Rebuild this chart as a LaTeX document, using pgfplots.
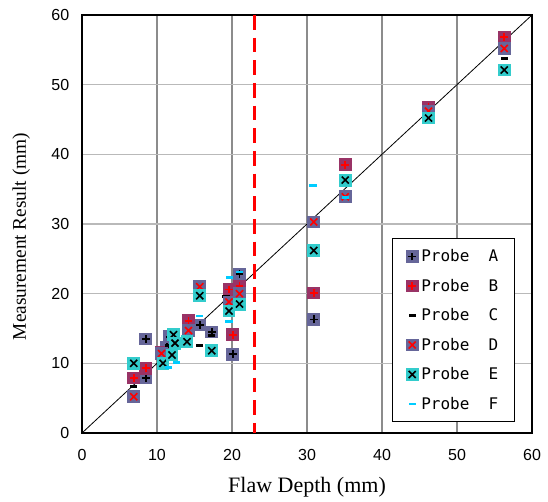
\documentclass[border=0pt]{standalone}
\usepackage{pgfplots}
\pgfplotsset{compat=1.18}
\usepackage{fontspec}
\setmainfont{Liberation Serif}
\newfontfamily\tickfont{Liberation Sans}
\newfontfamily\legfont{DejaVu Sans Mono}
\definecolor{cSlate}{RGB}{102,102,153}
\definecolor{cPlum}{RGB}{153,51,102}
\definecolor{cTeal}{RGB}{51,204,204}
\definecolor{cSky}{RGB}{0,204,255}
\definecolor{cGridX}{RGB}{140,140,140}
\definecolor{cGridY}{RGB}{185,185,185}
\definecolor{cRed}{RGB}{255,0,0}

\pgfdeclareplotmark{sqplus}{%
  \pgfpathrectangle{\pgfqpoint{-\pgfplotmarksize}{-\pgfplotmarksize}}{\pgfqpoint{2\pgfplotmarksize}{2\pgfplotmarksize}}%
  \pgfusepathqfill
  \pgfsetlinewidth{1.3pt}%
  \pgfpathmoveto{\pgfqpoint{-0.62\pgfplotmarksize}{0pt}}\pgfpathlineto{\pgfqpoint{0.62\pgfplotmarksize}{0pt}}%
  \pgfpathmoveto{\pgfqpoint{0pt}{-0.62\pgfplotmarksize}}\pgfpathlineto{\pgfqpoint{0pt}{0.62\pgfplotmarksize}}%
  \pgfusepathqstroke}
\pgfdeclareplotmark{sqcross}{%
  \pgfpathrectangle{\pgfqpoint{-\pgfplotmarksize}{-\pgfplotmarksize}}{\pgfqpoint{2\pgfplotmarksize}{2\pgfplotmarksize}}%
  \pgfusepathqfill
  \pgfsetlinewidth{1.2pt}%
  \pgfpathmoveto{\pgfqpoint{-0.55\pgfplotmarksize}{-0.55\pgfplotmarksize}}\pgfpathlineto{\pgfqpoint{0.55\pgfplotmarksize}{0.55\pgfplotmarksize}}%
  \pgfpathmoveto{\pgfqpoint{-0.55\pgfplotmarksize}{0.55\pgfplotmarksize}}\pgfpathlineto{\pgfqpoint{0.55\pgfplotmarksize}{-0.55\pgfplotmarksize}}%
  \pgfusepathqstroke}
\pgfdeclareplotmark{hdash}{%
  \pgfpathrectangle{\pgfqpoint{-0.55\pgfplotmarksize}{-0.22\pgfplotmarksize}}{\pgfqpoint{1.1\pgfplotmarksize}{0.44\pgfplotmarksize}}%
  \pgfusepathqfill}

\begin{document}
\begin{tikzpicture}
\begin{axis}[
  scale only axis,
  width=337.5pt, height=313.5pt,
  xmin=0, xmax=60, ymin=0, ymax=60,
  xtick={0,10,...,60}, ytick={0,10,...,60},
  major tick length=0pt,
  xmajorgrids, ymajorgrids,
  x grid style={cGridX, line width=0.9pt},
  y grid style={cGridY, line width=0.9pt},
  axis line style={black, line width=1.4pt},
  /pgf/number format/assume math mode=true,
  tick label style={font=\tickfont\fontsize{12}{14}\selectfont},
  xticklabel style={yshift=-9pt},
  yticklabel style={xshift=-6pt},
  xlabel={Flaw Depth (mm)},
  ylabel={Measurement Result (mm)},
  xlabel style={font=\fontsize{16.5}{18}\selectfont, at={(axis description cs:0.5,-0.129)}, anchor=center},
  ylabel style={font=\fontsize{14.5}{17}\selectfont, at={(axis description cs:-0.135,0.47)}, anchor=center},
  legend style={at={(0.689,0.026)}, anchor=south west, draw=black, line width=0.6pt,
    font=\legfont\fontsize{12}{14}\selectfont, row sep=7.5pt,
    inner xsep=10pt, inner ysep=6pt, cells={anchor=west}},
  legend cell align=left,
  mark size=4.8pt,
  clip=false,
]
\addplot[black, line width=0.6pt, forget plot] coordinates {(0,0) (60,60)};
\addplot[cRed, line width=2.2pt, dash pattern=on 11pt off 6pt, forget plot] coordinates {(23,60) (23,0)};

\addplot[only marks, mark=sqplus, mark options={fill=cSlate, draw=black}] coordinates {
 (8.5,13.5) (8.5,7.9) (11.3,12.3) (11.7,13.8) (15.7,15.5) (17.3,14.5) (20.1,11.3) (21,22.8)
 (30.9,16.3) (35.1,33.9) (46.2,46.5) (56.3,56)};
\addlegendentry{Probe\ \ A}
\addplot[only marks, mark=sqplus, mark options={fill=cPlum, draw=cRed}] coordinates {
 (6.9,7.9) (8.5,9.3) (10.6,11.6) (14.2,16.1) (19.6,20.6) (20.1,14.1) (21,21.1)
 (30.9,20.1) (35.1,38.5) (46.2,46.8) (56.3,56.8)};
\addlegendentry{Probe\ \ B}
\addplot[only marks, mark=hdash, mark options={fill=black, draw=none}] coordinates {
 (6.9,6.7) (11.6,12.6) (15.7,12.6) (17.3,14) (19.2,19.6) (56.3,53.8)};
\addlegendentry{Probe\ \ C}
\addplot[only marks, mark=sqcross, mark options={fill=cSlate, draw=cRed}] coordinates {
 (6.9,5.2) (10.6,11.4) (14.2,14.7) (15.7,21) (19.6,18.8) (21,20) (30.9,30.3)
 (35.1,33.9) (46.2,46.2) (56.3,55.2)};
\addlegendentry{Probe\ \ D}
\addplot[only marks, mark=sqcross, mark options={fill=cTeal, draw=black}] coordinates {
 (6.9,10) (10.8,10) (12,11.2) (12.2,14.1) (12.4,12.9) (14,13.1) (15.7,19.7) (17.3,11.8)
 (19.6,17.5) (21,18.5) (30.9,26.2) (35.1,36.3) (46.2,45.2) (56.3,52.1)};
\addlegendentry{Probe\ \ E}
\addplot[only marks, mark=hdash, mark options={fill=cSky, draw=none}] coordinates {
 (11.5,9.4) (12.6,10.1) (15.7,16.8) (19.7,22.3) (21,23.1) (19.6,16) (30.8,35.5) (35.1,33.8)};
\addlegendentry{Probe\ \ F}
\path (rel axis cs:0,0) ++(-61.5pt,-50.25pt);
\path (rel axis cs:1,1) ++(12pt,11.25pt);
\end{axis}
\end{tikzpicture}
\end{document}
